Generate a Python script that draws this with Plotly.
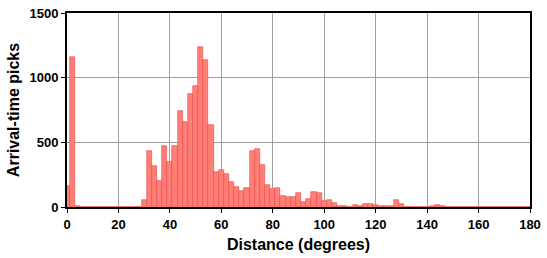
import plotly.graph_objects as go

bin_centers = list(range(0, 182, 2))
counts = [
    159, 1160, 10, 0, 0, 0, 3, 0, 3, 0,      # 0-18
    0, 3, 3, 0, 0, 54, 435, 318, 204, 472,   # 20-38
    345, 470, 743, 661, 875, 935, 1241, 1136, 634, 268,  # 40-58
    286, 256, 196, 151, 121, 149, 435, 450, 323, 174,    # 60-78
    137, 144, 84, 77, 77, 107, 40, 62, 114, 107,         # 80-98
    47, 54, 32, 10, 8, 3, 17, 10, 25, 25,                # 100-118
    17, 10, 10, 4, 54, 25, 3, 3, 2, 2,                   # 120-138
    3, 10, 17, 10, 3, 3, 2, 2, 2, 2,                     # 140-158
    3, 3, 3, 2, 3, 0, 0, 0, 0, 0,                        # 160-178
    0,                                                   # 180
]
x_ticks = list(range(0, 181, 20))
y_ticks = [0, 500, 1000, 1500]

font_family = "Liberation Sans, Arial, Helvetica, sans-serif"

fig = go.Figure()
fig.add_trace(go.Bar(
    x=bin_centers, y=counts, width=2,
    marker=dict(color="rgb(255,127,118)", line=dict(color="rgb(235,70,70)", width=0.6)),
))

fig.update_layout(
    width=547, height=258,
    margin=dict(l=67, r=13, t=6, b=51),
    plot_bgcolor="white", paper_bgcolor="white",
    showlegend=False, bargap=0,
    font=dict(family=font_family, color="black"),
)
fig.update_xaxes(
    range=[0, 180], tickvals=x_ticks, ticktext=[str(v) for v in x_ticks],
    showgrid=True, gridcolor="rgb(160,160,160)", gridwidth=1,
    showline=True, linecolor="black", linewidth=2, mirror=True,
    ticks="outside", ticklen=4, tickwidth=1, tickcolor="black",
    tickfont=dict(size=13, weight="bold"),
    title=dict(text="Distance (degrees)", font=dict(size=16, weight="bold"), standoff=8),
    zeroline=False,
)
fig.update_yaxes(
    range=[0, 1500], tickvals=y_ticks, ticktext=[str(v) for v in y_ticks],
    showgrid=True, gridcolor="rgb(160,160,160)", gridwidth=1,
    showline=True, linecolor="black", linewidth=2, mirror=True,
    ticks="outside", ticklen=4, tickwidth=1, tickcolor="black",
    tickfont=dict(size=13, weight="bold"),
    title=dict(text="Arrival-time picks", font=dict(size=16, weight="bold"), standoff=6),
    zeroline=False,
)

fig.write_html("out.html")
